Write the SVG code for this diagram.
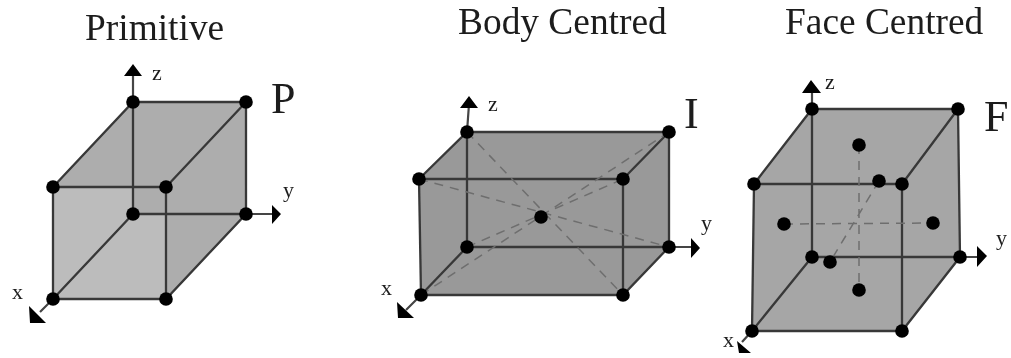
<svg xmlns="http://www.w3.org/2000/svg" width="1011" height="358" viewBox="0 0 1011 358">
<style>
text{font-family:"Liberation Serif","Times New Roman",serif;fill:#1c1c1c}
.t{font-size:37.4px}.l{font-size:44px}.a{font-size:22px}
.e{stroke:#383838;stroke-width:2.3;fill:none}
.ax{stroke:#444;stroke-width:2.2;fill:none}
.d{stroke:#6e6e6e;stroke-width:1.5;stroke-dasharray:9 7;fill:none}
.h{fill:#000}
circle{fill:#000}
</style>
<defs><filter id="b" x="-2%" y="-2%" width="104%" height="104%"><feGaussianBlur stdDeviation="0.6"/></filter></defs>
<rect width="1011" height="358" fill="#fff"/>
<g filter="url(#b)">
<g id="primitive">
<path d="M133 102H246V214L166 299H53V187Z" fill="#adadad"/>
<path d="M53 187H133V214H166V299H53Z" fill="#bcbcbc"/>
<path class="e" d="M53 187L133 102H246V214L166 299H53ZM53 187H166V299M166 187L246 102M133 102V214M133 214H246M133 214L53 299"/>
<g class="ax"><path d="M133 102V72M246 214H275M53 299L40 312"/></g>
<path class="h" d="M133 64L124 76H142ZM281 214L272 205V224ZM30 323L29 306L46 323Z"/>
<circle cx="133" cy="102" r="6.8"/><circle cx="246" cy="102" r="6.8"/><circle cx="53" cy="187" r="6.8"/><circle cx="166" cy="187" r="6.8"/><circle cx="133" cy="214" r="6.8"/><circle cx="246" cy="214" r="6.8"/><circle cx="53" cy="299" r="6.8"/><circle cx="166" cy="299" r="6.8"/>
<text class="t" x="85" y="40">Primitive</text>
<text class="l" x="271" y="113">P</text>
<text class="a" x="152" y="80">z</text><text class="a" x="283" y="197">y</text><text class="a" x="12" y="299">x</text>
</g>
<g id="body-centred">
<path d="M467 132H669V247L623 295H421L419 179Z" fill="#999"/>
<path class="e" d="M419 179L467 132H669V247L623 295H421ZM419 179H623V295M623 179L669 132M467 132V247M467 247H669M467 247L421 295"/>
<path class="d" d="M467 132L623 295M419 179L669 247M421 295L669 132M467 247L623 179"/>
<g class="ax"><path d="M467 132L469 104M669 247H695M421 295L406 310"/></g>
<path class="h" d="M469 96L460 108H478ZM700 248L691 238V258ZM398 318L397 302L414 318Z"/>
<circle cx="467" cy="132" r="6.8"/><circle cx="669" cy="132" r="6.8"/><circle cx="419" cy="179" r="6.8"/><circle cx="623" cy="179" r="6.8"/><circle cx="467" cy="247" r="6.8"/><circle cx="669" cy="247" r="6.8"/><circle cx="421" cy="295" r="6.8"/><circle cx="623" cy="295" r="6.8"/><circle cx="541" cy="217" r="6.8"/>
<text class="t" x="458" y="34">Body Centred</text>
<text class="l" x="684" y="128">I</text>
<text class="a" x="488" y="111">z</text><text class="a" x="701" y="230">y</text><text class="a" x="381" y="295">x</text>
</g>
<g id="face-centred">
<path d="M812 109H958L960 257L902 331H752L754 184Z" fill="#a6a6a6"/>
<path class="e" d="M754 184L812 109H958L960 257L902 331H752ZM754 184H902V331M902 184L958 109M812 109V257M812 257H960M812 257L752 331"/>
<path class="d" d="M859 145V290M784 224L933 223M879 181L830 262"/>
<g class="ax"><path d="M812 109V88M960 257H982M752 331L742 342"/></g>
<path class="h" d="M811 80L802 93H821ZM987 256L977 246V267ZM739 353L737 341L751 353Z"/>
<circle cx="812" cy="109" r="6.8"/><circle cx="958" cy="109" r="6.8"/><circle cx="754" cy="184" r="6.8"/><circle cx="902" cy="184" r="6.8"/><circle cx="812" cy="257" r="6.8"/><circle cx="960" cy="257" r="6.8"/><circle cx="752" cy="331" r="6.8"/><circle cx="902" cy="331" r="6.8"/>
<circle cx="859" cy="145" r="6.8"/><circle cx="879" cy="181" r="6.8"/><circle cx="784" cy="224" r="6.8"/><circle cx="933" cy="223" r="6.8"/><circle cx="830" cy="262" r="6.8"/><circle cx="859" cy="290" r="6.8"/>
<text class="t" x="785" y="34">Face Centred</text>
<text class="l" x="984" y="131">F</text>
<text class="a" x="825" y="89">z</text><text class="a" x="996" y="245">y</text><text class="a" x="723" y="347">x</text>
</g>
</g>
</svg>
